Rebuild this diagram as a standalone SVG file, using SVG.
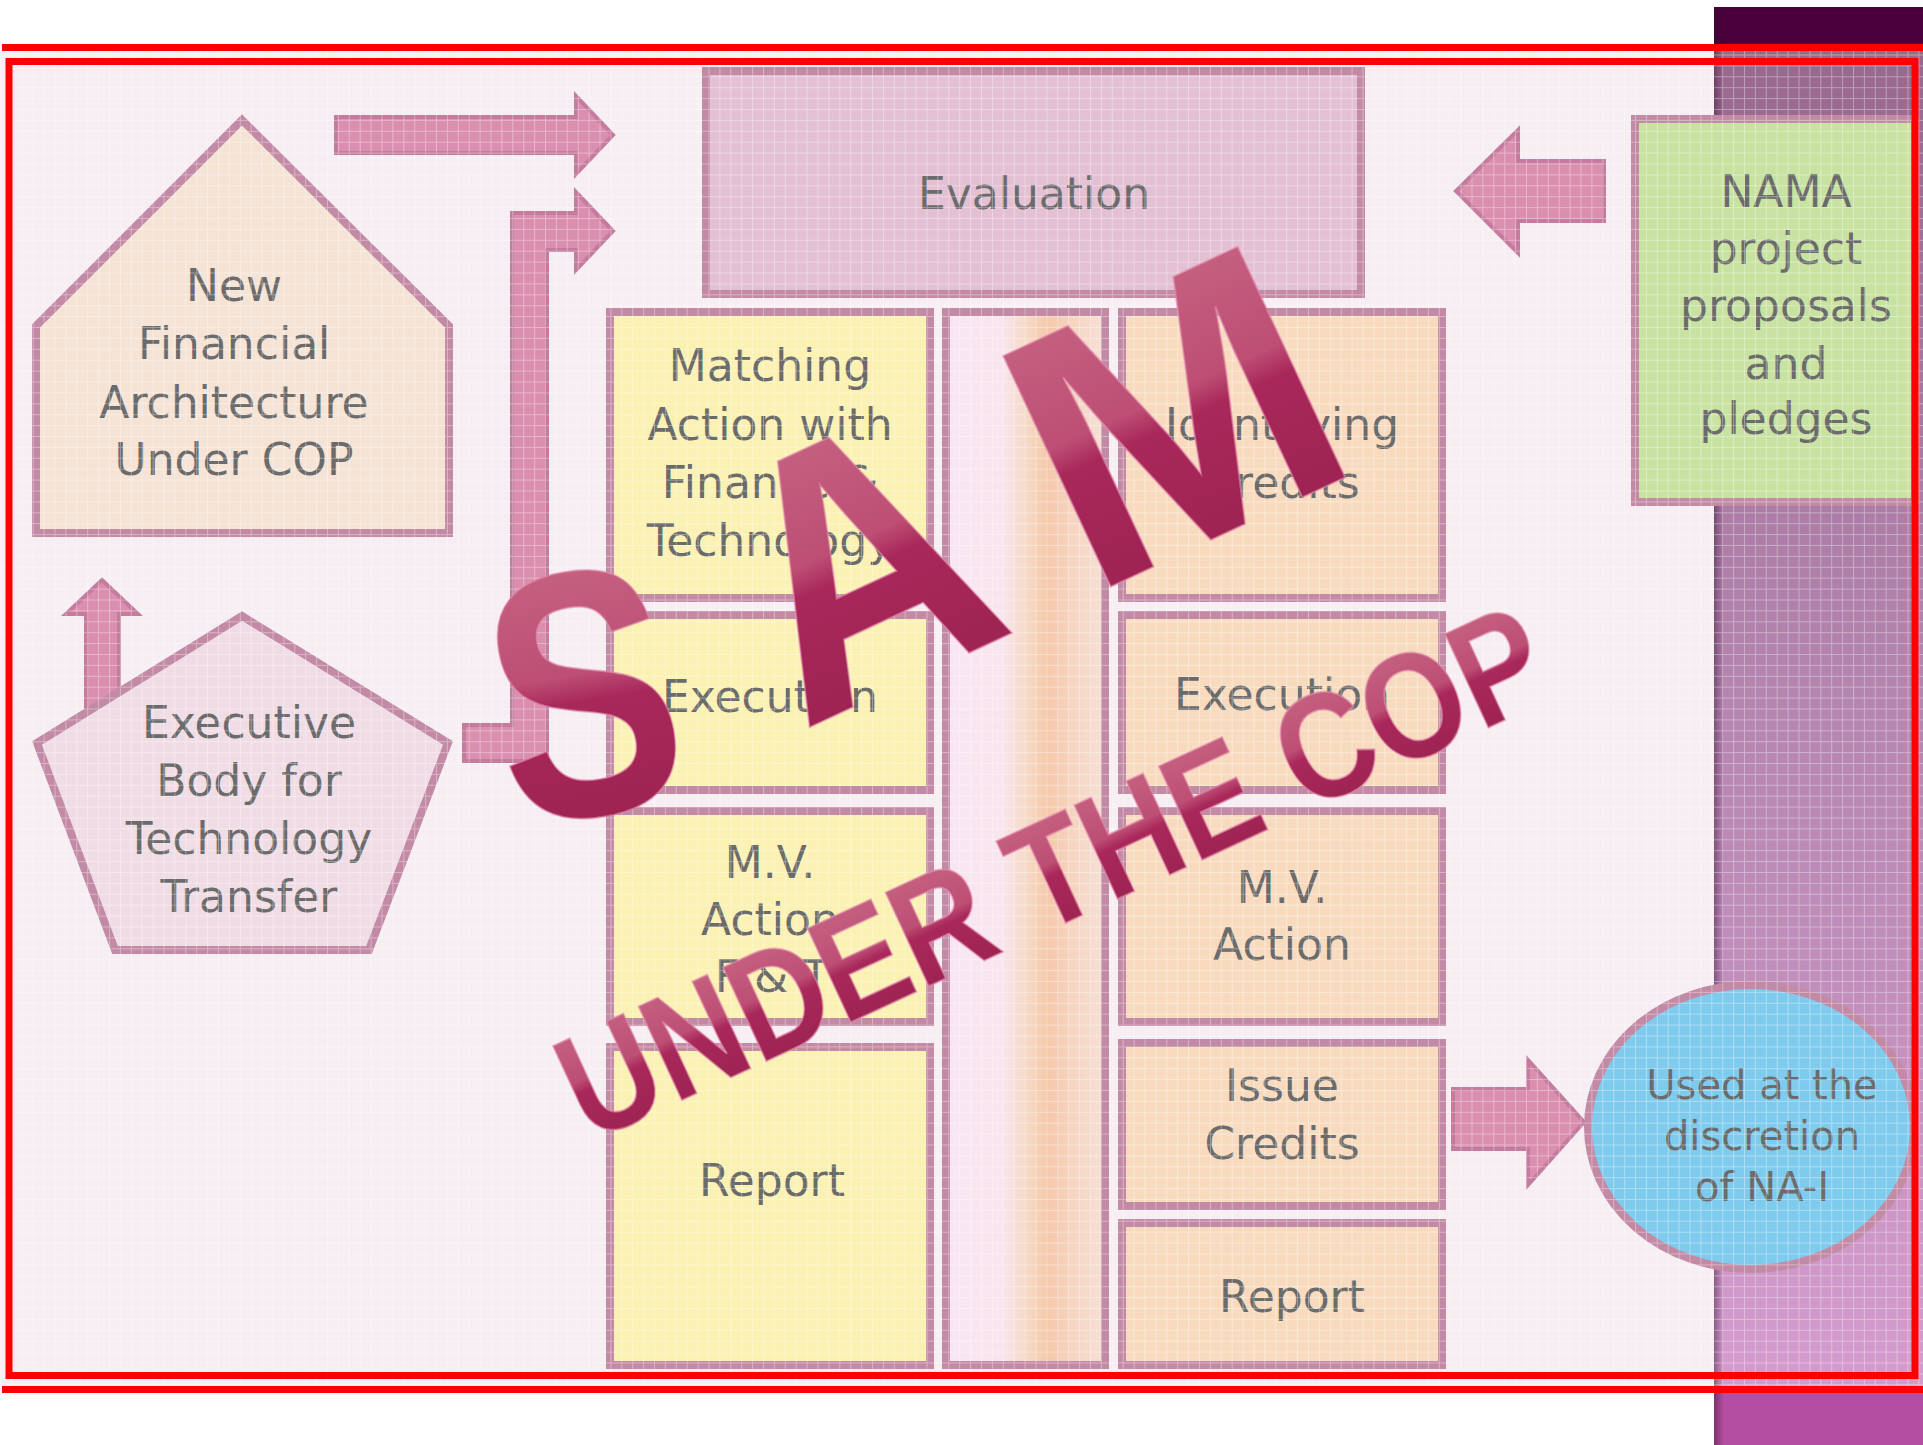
<svg xmlns="http://www.w3.org/2000/svg" width="1923" height="1445" viewBox="0 0 1923 1445">
<defs>
<style>
.t{font-family:"DejaVu Sans","Liberation Sans",sans-serif;font-size:44px;fill:#6b6b6b;text-anchor:middle}
.c{font-size:40px}
.box{stroke:#c38aa6;stroke-width:8}
.yel{fill:#faf1b2}
.org{fill:#f8dbbf}
.arr{fill:#db8fae;stroke:#c47b9d;stroke-width:4;stroke-linejoin:miter}
.wm{font-family:"Liberation Sans","DejaVu Sans",sans-serif;font-weight:bold;fill:url(#wmg);stroke:#e38aab;stroke-width:2;stroke-opacity:.6;text-anchor:middle}
.red{fill:#ff0000}
</style>
<linearGradient id="wmg" x1="0" y1="0" x2="0" y2="1">
<stop offset="0" stop-color="#c96c88"/>
<stop offset="0.45" stop-color="#bd4e74"/>
<stop offset="0.52" stop-color="#a8285a"/>
<stop offset="1" stop-color="#97214d"/>
</linearGradient>
<linearGradient id="band" x1="0" y1="0" x2="0" y2="1">
<stop offset="0" stop-color="#98688f"/>
<stop offset="0.5" stop-color="#b586b0"/>
<stop offset="1" stop-color="#d49cce"/>
</linearGradient>
<linearGradient id="shade" x1="0" y1="0" x2="1" y2="0">
<stop offset="0" stop-color="#3a0a30" stop-opacity="0.45"/>
<stop offset="1" stop-color="#3a0a30" stop-opacity="0"/>
</linearGradient>
<linearGradient id="mid" x1="0" y1="0" x2="1" y2="0">
<stop offset="0" stop-color="#f8e6f2"/>
<stop offset="0.35" stop-color="#f8e5ee"/>
<stop offset="0.52" stop-color="#f6d8c2"/>
<stop offset="0.64" stop-color="#f5c8aa"/>
<stop offset="0.8" stop-color="#f5d5c2"/>
<stop offset="1" stop-color="#f6e0d6"/>
</linearGradient>
<pattern id="grid" width="10.9" height="10.9" patternUnits="userSpaceOnUse">
<path d="M0 0.5H10.9M0.5 0V10.9" stroke="#ffffff" stroke-width="1" fill="none"/>
</pattern>
</defs>

<!-- background -->
<rect x="0" y="0" width="1923" height="1445" fill="#ffffff"/>
<rect x="0" y="51" width="1714" height="1336" fill="#f6eef2"/>
<rect x="1714" y="7" width="209" height="44" fill="#4a003a"/>
<rect x="1714" y="51" width="209" height="1336" fill="url(#band)"/>
<rect x="1714" y="1387" width="209" height="58" fill="#b44ea2"/>
<rect x="1714" y="7" width="10" height="1438" fill="url(#shade)"/>

<!-- connectors -->
<g id="connectors">
<path class="arr" d="M336 117H576V96L613 135L576 174V153H336Z"/>
<path class="arr" d="M464 725H512V213H576V192L613 231L576 270V250H547V761H464Z"/>
<path class="arr" d="M86 730V614H66L102 580L138 614H119V730Z"/>
<path class="arr" d="M1604 161H1518V130L1456 191L1518 253V221H1604Z"/>
<path class="arr" d="M1453 1089H1528V1060L1584 1122L1528 1185V1149H1453Z"/>
</g>

<!-- nodes -->
<g id="evaluation">
<rect class="box" x="706" y="71" width="655" height="223" fill="#e3c0d3"/>
<text class="t" x="1034" y="209">Evaluation</text>
</g>

<g id="new-financial-architecture">
<polygon class="box" points="242,120 449,326 449,533 36,533 36,326" fill="#f5e3d6"/>
<text class="t" x="234" y="301">New</text>
<text class="t" x="234" y="359">Financial</text>
<text class="t" x="234" y="418">Architecture</text>
<text class="t" x="234" y="475">Under COP</text>
</g>

<g id="executive-body">
<polygon class="box" points="242,616 448,743 369,950 115,950 37,743" fill="#f0dce5"/>
<text class="t" x="249" y="738">Executive</text>
<text class="t" x="249" y="796">Body for</text>
<text class="t" x="249" y="854">Technology</text>
<text class="t" x="249" y="912">Transfer</text>
</g>

<g id="matching-action">
<rect class="box yel" x="610" y="312" width="320" height="286"/>
<text class="t" x="770" y="381">Matching</text>
<text class="t" x="770" y="440">Action with</text>
<text class="t" x="770" y="498">Finance &amp;</text>
<text class="t" x="770" y="556">Technology</text>
</g>

<g id="execution-left">
<rect class="box yel" x="610" y="615" width="320" height="175"/>
<text class="t" x="770" y="712">Execution</text>
</g>

<g id="mv-action-left">
<rect class="box yel" x="610" y="811" width="320" height="211"/>
<text class="t" x="770" y="878">M.V.</text>
<text class="t" x="770" y="935">Action</text>
<text class="t" x="772" y="992">F &amp; T</text>
</g>

<g id="report-left">
<rect class="box yel" x="610" y="1047" width="320" height="318"/>
<text class="t" x="772" y="1196">Report</text>
</g>

<g id="middle-column">
<rect class="box" x="946" y="312" width="159" height="1053" fill="url(#mid)"/>
</g>

<g id="identifying-credits">
<rect class="box org" x="1122" y="312" width="320" height="286"/>
<text class="t" x="1282" y="440">Identifying</text>
<text class="t" x="1282" y="498">Credits</text>
</g>

<g id="execution-right">
<rect class="box org" x="1122" y="615" width="320" height="175"/>
<text class="t" x="1282" y="710">Execution</text>
</g>

<g id="mv-action-right">
<rect class="box org" x="1122" y="811" width="320" height="211"/>
<text class="t" x="1282" y="903">M.V.</text>
<text class="t" x="1282" y="960">Action</text>
</g>

<g id="issue-credits">
<rect class="box org" x="1122" y="1043" width="320" height="163"/>
<text class="t" x="1282" y="1101">Issue</text>
<text class="t" x="1282" y="1159">Credits</text>
</g>

<g id="report-right">
<rect class="box org" x="1122" y="1223" width="320" height="142"/>
<text class="t" x="1292" y="1312">Report</text>
</g>

<g id="nama">
<rect class="box" x="1635" y="119" width="280" height="383" fill="#c8e2a2"/>
<text class="t" x="1786" y="207">NAMA</text>
<text class="t" x="1786" y="264">project</text>
<text class="t" x="1786" y="321">proposals</text>
<text class="t" x="1786" y="379">and</text>
<text class="t" x="1786" y="434">pledges</text>
</g>

<g id="used-at-discretion">
<ellipse class="box" cx="1751" cy="1127" rx="163" ry="142" fill="#7fcbee"/>
<text class="t c" x="1762" y="1099">Used at the</text>
<text class="t c" x="1762" y="1150">discretion</text>
<text class="t c" x="1762" y="1201">of NA-I</text>
</g>

<!-- texture -->
<rect x="0" y="51" width="1923" height="1336" fill="url(#grid)" opacity="0.35"/>

<!-- frame -->
<rect class="red" x="2" y="44" width="1921" height="7"/>
<rect class="red" x="2" y="1386" width="1921" height="7"/>
<rect x="9" y="61.5" width="1906" height="1314" fill="none" stroke="#ff0000" stroke-width="7"/>

<!-- watermark -->
<g id="watermark">
<text class="wm" font-size="350" transform="translate(583,690) rotate(-10) scale(0.8,1)" x="0" y="125">S</text>
<text class="wm" font-size="370" transform="translate(911,680) rotate(-25) scale(0.9,1)" x="0" y="0">A</text>
<text class="wm" font-size="370" transform="translate(1228,532) rotate(-25)" x="0" y="0">M</text>
<text class="wm" font-size="150" transform="translate(1074,919) rotate(-24.8) scale(0.86,1)" x="0" y="0">UNDER THE COP</text>
</g>
</svg>
